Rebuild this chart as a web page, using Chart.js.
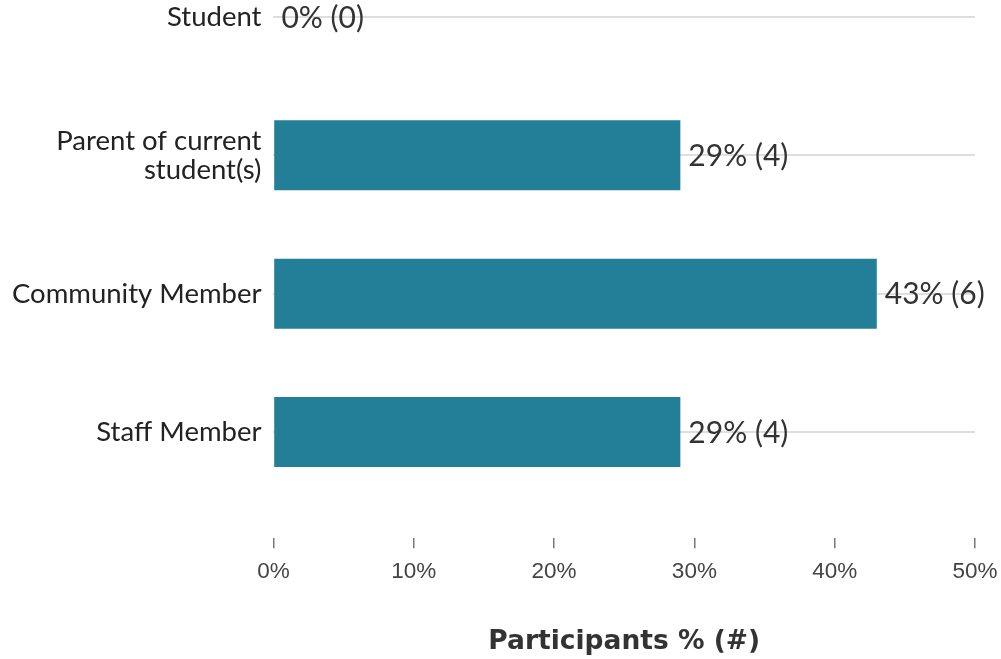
<!DOCTYPE html>
<html>
<head>
<meta charset="utf-8">
<script src="https://cdn.jsdelivr.net/npm/chart.js@4/dist/chart.umd.min.js"></script>
<style>
  html, body { margin: 0; padding: 0; background: #fff; }
  #wrap { width: 1001px; height: 659px; position: relative; }
</style>
</head>
<body>
<div id="wrap"><canvas id="chart"></canvas></div>
<script>
  // Respondent groups, top to bottom
  var categories = ['Student', ['Parent of current', 'student(s)'], 'Community Member', 'Staff Member'];
  var percents = [0, 29, 43, 29];
  var counts = [0, 4, 6, 4];
  var xTicks = [0, 10, 20, 30, 40, 50];

  var BAR = '#227f97';

  // value labels to the right of each bar: "29% (4)"
  var valueLabels = {
    id: 'valueLabels',
    afterDatasetsDraw: function (chart) {
      var ctx = chart.ctx;
      var meta = chart.getDatasetMeta(0);
      ctx.save();
      ctx.font = '30px Lato';
      ctx.fillStyle = '#333';
      ctx.textAlign = 'left';
      ctx.textBaseline = 'middle';
      meta.data.forEach(function (bar, i) {
        ctx.fillText(percents[i] + '% (' + counts[i] + ')', bar.x + 8, bar.y + 1);
      });
      ctx.restore();
    }
  };

  // keep the plot area flush with the edges set by layout.padding
  function noEdgePadding(scale) {
    scale.paddingTop = 0;
    scale.paddingBottom = 0;
    scale.paddingLeft = 0;
    scale.paddingRight = 0;
  }

  var points = percents.map(function (p, i) { return { x: p, y: i }; });

  new Chart(document.getElementById('chart').getContext('2d'), {
    type: 'bar',
    data: {
      datasets: [{
        data: points,
        backgroundColor: BAR,
        borderWidth: 0,
        inflateAmount: 0,
        barThickness: 70
      }]
    },
    options: {
      indexAxis: 'y',
      responsive: true,
      maintainAspectRatio: false,
      animation: false,
      layout: { padding: { top: 0, right: 26, bottom: 1, left: 0 } },
      plugins: {
        legend: { display: false },
        tooltip: { enabled: false }
      },
      scales: {
        y: {
          type: 'linear',
          reverse: true,
          offset: false,
          min: -0.123,
          max: 3.768,
          afterBuildTicks: function (scale) {
            scale.ticks = categories.map(function (_, i) { return { value: i }; });
          },
          afterFit: noEdgePadding,
          ticks: {
            autoSkip: false,
            padding: 12,
            color: '#222',
            font: { family: 'Lato', size: 27.5, lineHeight: 1.05 },
            callback: function (v) { return categories[v]; }
          },
          grid: { offset: false, color: '#dedede', lineWidth: 2, drawTicks: false },
          border: { display: false }
        },
        x: {
          type: 'linear',
          min: 0,
          max: 50,
          afterBuildTicks: function (scale) {
            scale.ticks = xTicks.map(function (v) { return { value: v }; });
          },
          afterFit: noEdgePadding,
          ticks: {
            padding: 10,
            color: '#444',
            font: { family: 'Liberation Sans', size: 22.5 },
            callback: function (v) { return v + '%'; }
          },
          grid: { drawOnChartArea: false, drawTicks: true, tickLength: 10, color: '#777', lineWidth: 1.5 },
          border: { display: false },
          title: {
            display: true,
            text: 'Participants % (#)',
            color: '#333',
            font: { family: 'DejaVu Sans', size: 26.5, weight: 'bold' },
            padding: { top: 31, bottom: 0 }
          }
        }
      }
    },
    plugins: [valueLabels]
  });
</script>
</body>
</html>
